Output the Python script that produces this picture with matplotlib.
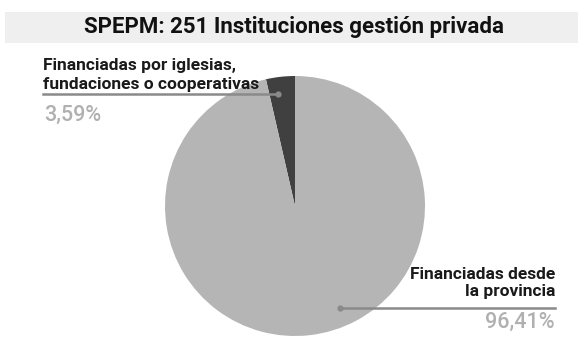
import numpy as np
import matplotlib
matplotlib.use("Agg")
import matplotlib.pyplot as plt
from matplotlib.patches import Rectangle

# data
title = "SPEPM: 251 Instituciones gestión privada"
labels = ["Financiadas por iglesias,\nfundaciones o cooperativas",
          "Financiadas desde\nla provincia"]
values = [3.59, 96.41]
pct_labels = ["3,59%", "96,41%"]
colors = ["#404040", "#b5b5b5"]

W, H = 578, 345
fig = plt.figure(figsize=(W / 100, H / 100), dpi=100)
plt.rcParams['font.family'] = ['Roboto', 'DejaVu Sans']

def fx(px):
    return px / W

def fy(py):
    return 1 - py / H

# title band
fig.patches.append(Rectangle((fx(5), fy(43)), 1 - fx(5), (43 - 12) / H,
                             transform=fig.transFigure, facecolor="#efefef",
                             edgecolor="none", zorder=0))
fig.text(fx(294), fy(27.5), title, ha="center", va="center",
         fontsize=16, fontweight="bold", color="#111111")

# pie axes: center (295, 206) px, radius 130 px
cx, cy, R = 295, 206, 130
ax = fig.add_axes([fx(cx - R), fy(cy + R), 2 * R / W, 2 * R / H])
ax.pie(values, colors=colors, startangle=90, counterclock=True,
       wedgeprops=dict(linewidth=0))
ax.set_xlim(-1, 1)
ax.set_ylim(-1, 1)
ax.set_aspect("equal")
ax.axis("off")

# leader anchors (angle in degrees, radius fraction)
anchors = [(98.6, 0.87), (-66, 0.86)]
line_col = "#8a8a8a"

def anchor_px(ang, r):
    a = np.deg2rad(ang)
    return cx + R * r * np.cos(a), cy - R * r * np.sin(a)

# left label
ax_px, ay_px = anchor_px(*anchors[0])
fig.text(fx(43), fy(75), labels[0], ha="left", va="center", fontsize=12.5,
         fontweight="bold", color="#1a1a1a", linespacing=1.35)
fig.add_artist(plt.Line2D([fx(43), fx(ax_px)], [fy(ay_px), fy(ay_px)],
                          transform=fig.transFigure, color=line_col, lw=1.8))
fig.add_artist(plt.Line2D([fx(ax_px)], [fy(ay_px)], transform=fig.transFigure,
                          marker="o", ms=4.5, color=line_col, mec="none"))
fig.text(fx(44), fy(115), pct_labels[0], ha="left", va="center", fontsize=15.5,
         fontweight="medium", color="#b0b0b0")

# right label
bx_px, by_px = anchor_px(*anchors[1])
fig.text(fx(555), fy(283), labels[1], ha="right", va="center", fontsize=12.5,
         fontweight="bold", color="#1a1a1a", linespacing=1.15,
         multialignment="right")
fig.add_artist(plt.Line2D([fx(bx_px), fx(555)], [fy(by_px), fy(by_px)],
                          transform=fig.transFigure, color=line_col, lw=1.8))
fig.add_artist(plt.Line2D([fx(bx_px)], [fy(by_px)], transform=fig.transFigure,
                          marker="o", ms=4.5, color=line_col, mec="none"))
fig.text(fx(555), fy(322), pct_labels[1], ha="right", va="center", fontsize=15.5,
         fontweight="medium", color="#b0b0b0")

fig.savefig("out.png", dpi=100, facecolor="white")
